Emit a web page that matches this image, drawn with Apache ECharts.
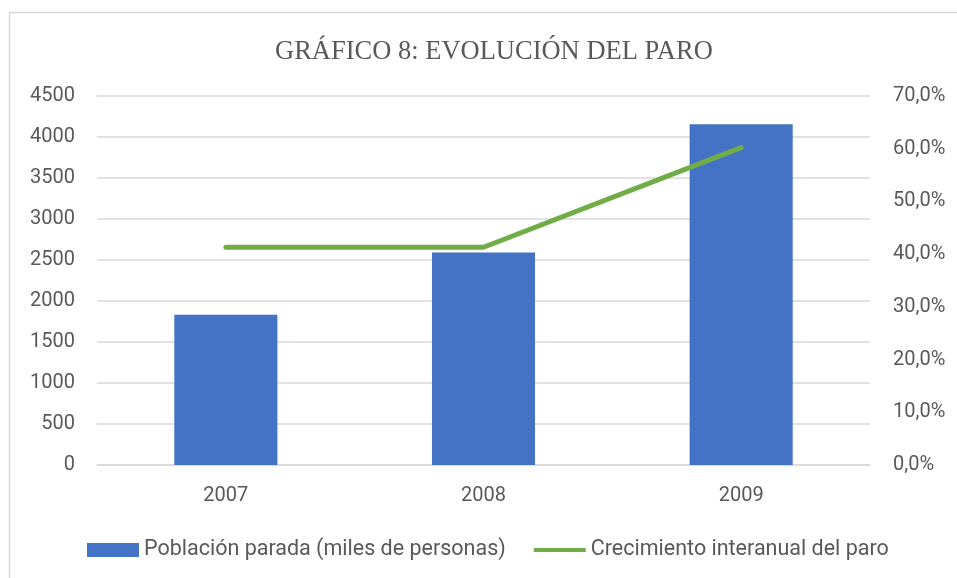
<!DOCTYPE html>
<html lang="es">
<head>
    <meta charset="UTF-8">
    <title>Evolución del paro</title>
    <script src="https://cdn.jsdelivr.net/npm/echarts@6/dist/echarts.min.js"></script>
    <style>
        html, body { margin: 0; padding: 0; background: #fff; }
        #chart { width: 957px; height: 578px; }
    </style>
</head>
<body>
<div id="chart"></div>
<script>
    // datos
    const years = ['2007', '2008', '2009'];
    const parados = [1832, 2590, 4155];          // miles de personas
    const crecimiento = [41.3, 41.3, 60.2];      // %

    const gray = '#595959';
    const gridColor = '#d9d9d9';
    const labelFont = 'Roboto, "Open Sans", sans-serif';
    // icono de línea para la leyenda (banda fina centrada)
    const lineIcon = 'path://M0,0 L0.01,0 M0,5 L55,5 L55,9 L0,9 Z M0,14 L0.01,14';

    const chart = echarts.init(document.getElementById('chart'));

    chart.setOption({
        animation: false,
        title: {
            text: 'GRÁFICO 8: EVOLUCIÓN DEL PARO',
            left: 270,
            top: 34,
            textStyle: {
                fontFamily: '"Liberation Serif", "DejaVu Serif", serif',
                fontWeight: 'normal',
                fontSize: 26.5,
                color: gray
            }
        },
        graphic: [{
            type: 'rect',
            shape: {x: 9.5, y: 12.5, width: 960, height: 580},
            style: {fill: 'none', stroke: gridColor, lineWidth: 1.5},
            silent: true
        }],
        legend: {
            bottom: 12,
            left: 82,
            itemWidth: 52,
            itemHeight: 14,
            itemGap: 28,
            textStyle: {fontFamily: labelFont, fontSize: 21.5, color: gray},
            data: [
                {name: 'Población parada (miles de personas)', icon: 'rect'},
                {name: 'Crecimiento interanual del paro', icon: lineIcon}
            ]
        },
        grid: {left: 97, right: 87, top: 96, height: 369, containLabel: false},
        xAxis: {
            type: 'category',
            data: years,
            axisLine: {lineStyle: {color: gridColor, width: 1.5}},
            axisTick: {show: false},
            axisLabel: {fontFamily: labelFont, fontSize: 20, color: gray, margin: 21}
        },
        yAxis: [{
            type: 'value',
            min: 0,
            max: 4500,
            interval: 500,
            axisLine: {show: false},
            axisTick: {show: false},
            splitLine: {lineStyle: {color: gridColor, width: 1.5}},
            axisLabel: {
                fontFamily: labelFont, fontSize: 20, color: gray, margin: 22,
                formatter: function (v) { return String(v); }
            }
        }, {
            type: 'value',
            min: 0,
            max: 70,
            interval: 10,
            position: 'right',
            axisLine: {show: false},
            axisTick: {show: false},
            splitLine: {show: false},
            axisLabel: {
                fontFamily: labelFont, fontSize: 20, color: gray, margin: 23,
                formatter: function (v) { return v.toFixed(1).replace('.', ',') + '%'; }
            }
        }],
        series: [{
            name: 'Población parada (miles de personas)',
            type: 'bar',
            data: parados,
            barWidth: '40%',
            itemStyle: {color: '#4472C4'}
        }, {
            name: 'Crecimiento interanual del paro',
            type: 'line',
            yAxisIndex: 1,
            data: crecimiento,
            showSymbol: false,
            symbol: 'none',
            itemStyle: {color: '#70AD47'},
            lineStyle: {color: '#70AD47', width: 5, cap: 'round', join: 'round'}
        }]
    });
</script>
</body>
</html>
